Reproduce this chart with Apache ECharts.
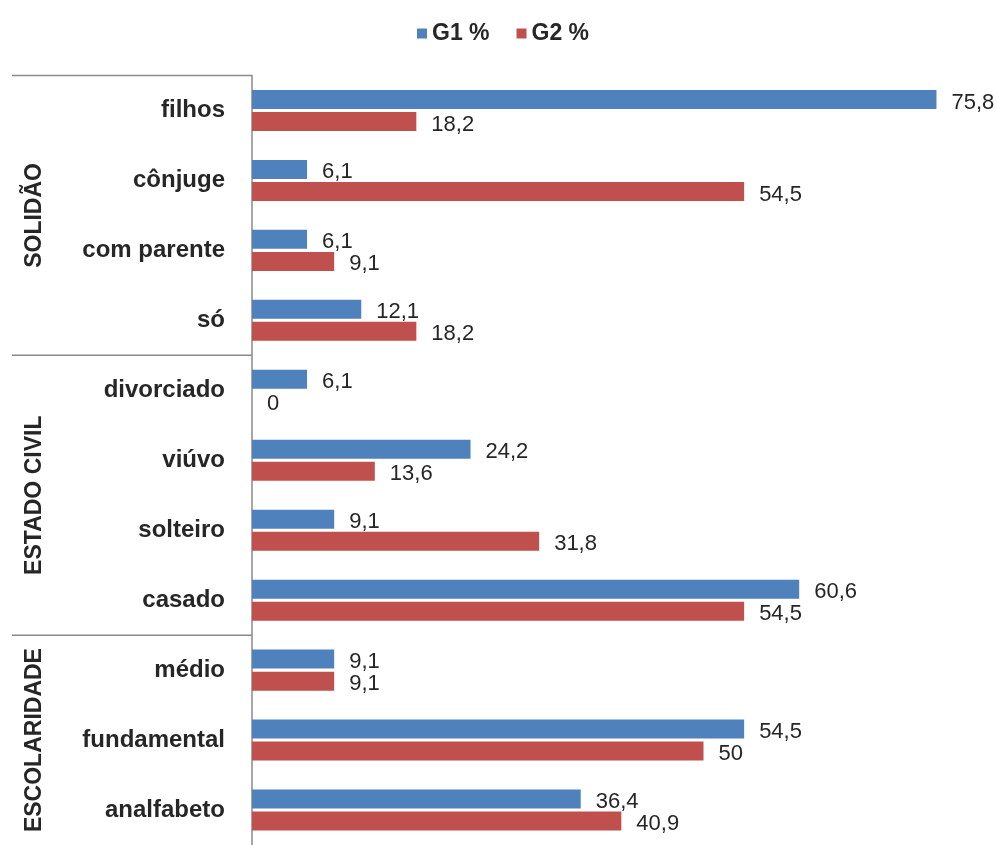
<!DOCTYPE html>
<html>
<head>
<meta charset="utf-8">
<script src="https://cdn.jsdelivr.net/npm/echarts@6/dist/echarts.min.js"></script>
<style>
  html, body { margin: 0; padding: 0; background: #fff; }
  #chart { width: 997px; height: 845px; }
</style>
</head>
<body>
<div id="chart"></div>
<script>
// Profile of the two groups, in percent
const categories = ['filhos', 'cônjuge', 'com parente', 'só',
                    'divorciado', 'viúvo', 'solteiro', 'casado',
                    'médio', 'fundamental', 'analfabeto'];
const g1Values = [75.8, 6.1, 6.1, 12.1, 6.1, 24.2, 9.1, 60.6, 9.1, 54.5, 36.4];
const g2Values = [18.2, 54.5, 9.1, 18.2, 0, 13.6, 31.8, 54.5, 9.1, 50, 40.9];
const seriesNames = ['G1 %', 'G2 %'];
// Groups of the category axis: label and number of categories in each
const groupLabels = ['SOLIDÃO', 'ESTADO CIVIL', 'ESCOLARIDADE'];
const groupSizes = [4, 4, 3];

const FONT = '"Liberation Sans", Arial, sans-serif';
const TEXT = '#262626';
const LINE = '#8a8a8a';

const chart = echarts.init(document.getElementById('chart'), null, { renderer: 'canvas' });

const valueLabel = {
  show: true,
  position: 'right',
  distance: 15,
  offset: [0, 3],
  color: TEXT,
  fontFamily: FONT,
  fontSize: 22,
  formatter: p => String(p.value).replace('.', ',')
};

chart.setOption({
  backgroundColor: '#fff',
  animation: false,
  legend: {
    data: seriesNames,
    left: 412,
    top: 17,
    icon: 'rect',
    itemWidth: 10,
    itemHeight: 10,
    itemGap: 27,
    textStyle: { color: TEXT, fontFamily: FONT, fontSize: 23, fontWeight: 'bold' }
  },
  grid: { left: 252, top: 75.5, height: 777.7, right: 22.6, containLabel: false },
  xAxis: {
    type: 'value',
    min: 0,
    max: 80,
    show: false,
    splitLine: { show: false }
  },
  yAxis: {
    type: 'category',
    data: categories,
    inverse: true,
    axisLine: { show: true, lineStyle: { color: LINE, width: 1.5 } },
    axisTick: { show: false },
    axisLabel: {
      margin: 27,
      color: TEXT,
      fontFamily: FONT,
      fontSize: 24,
      fontWeight: 'bold'
    }
  },
  series: [
    {
      name: seriesNames[0],
      type: 'bar',
      data: g1Values,
      barWidth: 19,
      barGap: '16%',
      itemStyle: { color: '#4f81bd' },
      label: valueLabel
    },
    {
      name: seriesNames[1],
      type: 'bar',
      data: g2Values,
      barWidth: 19,
      barGap: '16%',
      itemStyle: { color: '#c0504d' },
      label: valueLabel
    }
  ]
});

// Group separators and rotated group names, placed from the category scale
function drawGroups() {
  const y0 = chart.convertToPixel({ yAxisIndex: 0 }, categories[0]);
  const y1 = chart.convertToPixel({ yAxisIndex: 0 }, categories[1]);
  const band = y1 - y0;
  const axisX = chart.convertToPixel({ xAxisIndex: 0 }, 0);
  const elements = [];
  let start = 0;
  groupSizes.forEach((size, i) => {
    const top = y0 - band / 2 + start * band;
    const bottom = top + size * band;
    elements.push({
      type: 'line',
      shape: { x1: 12, y1: top, x2: axisX, y2: top },
      style: { stroke: LINE, lineWidth: 1.5 },
      silent: true
    });
    elements.push({
      type: 'text',
      x: 35,
      y: (top + bottom) / 2,
      rotation: Math.PI / 2,
      style: {
        text: groupLabels[i],
        fill: TEXT,
        font: 'bold 23px ' + FONT,
        align: 'center',
        verticalAlign: 'middle'
      },
      silent: true
    });
    start += size;
  });
  chart.setOption({ graphic: elements });
}
drawGroups();
</script>
</body>
</html>
